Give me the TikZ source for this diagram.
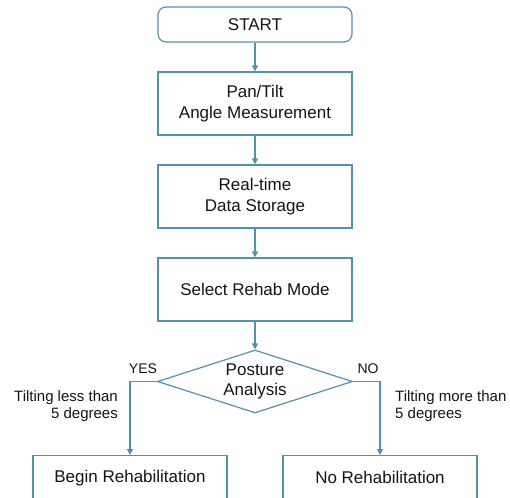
\documentclass[tikz,border=0pt]{standalone}
\usepackage{fontspec}
\setmainfont{Liberation Sans}
\usetikzlibrary{arrows.meta,positioning,shapes.geometric}
\definecolor{flowblue}{RGB}{82,146,170}
\definecolor{inkgray}{RGB}{20,20,20}

\begin{document}
\begin{tikzpicture}[
  x=1pt, y=1pt,
  node distance=28.8pt,
  >={Triangle[length=6pt,width=6pt]},
  font=\fontsize{17}{20.5}\selectfont,
  text=inkgray,
  box/.style={draw=flowblue, line width=1.2pt, align=center,
              minimum width=194pt, minimum height=63pt, inner sep=2pt},
  term/.style={box, rounded corners=8pt, minimum height=35pt},
  decision/.style={diamond, draw=flowblue, line width=1.2pt, align=center,
                   aspect=3.1, inner sep=0pt, minimum width=195pt, minimum height=63pt},
  endbox/.style={box, minimum height=44pt},
  note/.style={font=\fontsize{15}{17}\selectfont, inner sep=0pt},
  flow/.style={->, draw=flowblue, line width=1.2pt}
]
  \useasboundingbox (0,0) rectangle (510,-497);

  \node[term] (start) at (255,-24.5) {START};
  \node[box, below=of start] (measure) {Pan/Tilt\\Angle Measurement};
  \node[box, below=of measure] (storage) {Real-time\\Data Storage};
  \node[box, below=of storage] (mode) {Select Rehab Mode};
  \node[decision, below=27.8pt of mode] (posture) {Posture\\Analysis};
  \node[endbox, anchor=north] (begin) at (130,-455) {Begin Rehabilitation};
  \node[endbox, anchor=north] (norehab) at (380,-455) {No Rehabilitation};

  % branch labels
  \node[note, font=\fontsize{14}{16}\selectfont] (yes) at (143,-369) {YES};
  \node[note, font=\fontsize{14}{16}\selectfont] (no) at (368,-369) {NO};
  \node[note, align=right, anchor=east] (lessnote) at (118,-406) {Tilting less than\\5 degrees};
  \node[note, align=left, anchor=west] (morenote) at (395,-406) {Tilting more than\\5 degrees};

  \draw[flow] (start) -- (measure);
  \draw[flow] (measure) -- (storage);
  \draw[flow] (storage) -- (mode);
  \draw[flow] (mode) -- (posture);
  \draw[flow] (posture.west) -| (begin);
  \draw[flow] (posture.east) -| (norehab);
\end{tikzpicture}
\end{document}
